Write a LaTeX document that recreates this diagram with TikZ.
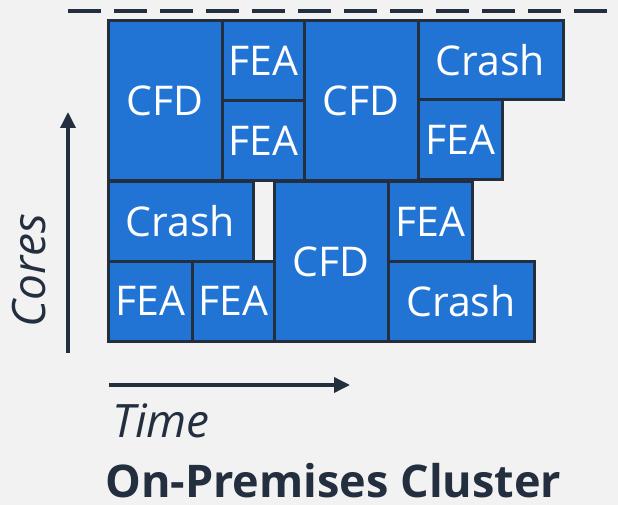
\documentclass[tikz,border=0pt]{standalone}
\usepackage{fontspec}
\setmainfont{Open Sans}
\usetikzlibrary{arrows.meta}
\definecolor{bgcol}{HTML}{F1F2F1}
\definecolor{ink}{HTML}{232F3E}
\definecolor{jobblue}{HTML}{2173D4}
\tikzset{
  job/.style={draw=ink, fill=jobblue, line width=3pt, anchor=north west,
    inner sep=0pt, outer sep=0pt, text=white,
    font=\fontsize{41}{48}\selectfont},
  axis/.style={draw=ink, line width=3.5pt, -{Triangle[length=16pt,width=15pt]}},
  axislabel/.style={text=ink, font=\fontsize{46}{54}\selectfont\itshape, inner sep=0pt},
}
% place a job box by its top-left corner and size
\newcommand{\jobbox}[6]{%
  \node[job, minimum width=#4pt, minimum height=#5pt] (#1) at (#2,#3) {#6};}
\begin{document}
\begin{tikzpicture}[x=1pt, y=-1pt]
  \fill[bgcol] (0,0) rectangle (618,505);
  \useasboundingbox (0,0) rectangle (618,505);

  % capacity limit
  \coordinate (capL) at (68,11);
  \coordinate (capR) at (640,11);
  \draw[ink, line width=3.5pt, dash pattern=on 33pt off 13pt] (capL) -- (capR);

  % upper band of jobs
  \jobbox{cfdA}{108}{21}{114}{160}{CFD}
  \jobbox{feaA}{222}{21}{82}{80}{FEA}
  \jobbox{feaB}{222}{101}{82}{80}{FEA}
  \jobbox{cfdB}{304}{21}{114}{160}{CFD}
  \jobbox{crashA}{418}{21}{145}{79}{Crash}
  \jobbox{feaC}{418}{100}{84}{80}{FEA}

  % lower band of jobs
  \jobbox{crashB}{108}{182}{145}{79}{Crash}
  \jobbox{feaD}{108}{261}{84}{80}{FEA}
  \jobbox{feaE}{192}{261}{82}{80}{FEA}
  \jobbox{cfdC}{274}{182}{114}{159}{CFD}
  \jobbox{feaF}{388}{182}{84}{79}{FEA}
  \jobbox{crashC}{388}{261}{146}{80}{Crash}

  % axes
  \coordinate (coresFrom) at (68,353);
  \coordinate (coresTo) at (68,112);
  \draw[axis] (coresFrom) -- (coresTo);
  \coordinate (timeFrom) at (109,385);
  \coordinate (timeTo) at (350,385);
  \draw[axis] (timeFrom) -- (timeTo);

  \node[axislabel, rotate=90, anchor=base] (cores) at (45,271) {Cores};
  \node[axislabel, anchor=base west] (time) at (112,437) {Time};

  \node[text=ink, font=\fontsize{45}{54}\selectfont\bfseries, inner sep=0pt,
        anchor=base west] (title) at (105,497) {On-Premises Cluster};
\end{tikzpicture}
\end{document}
